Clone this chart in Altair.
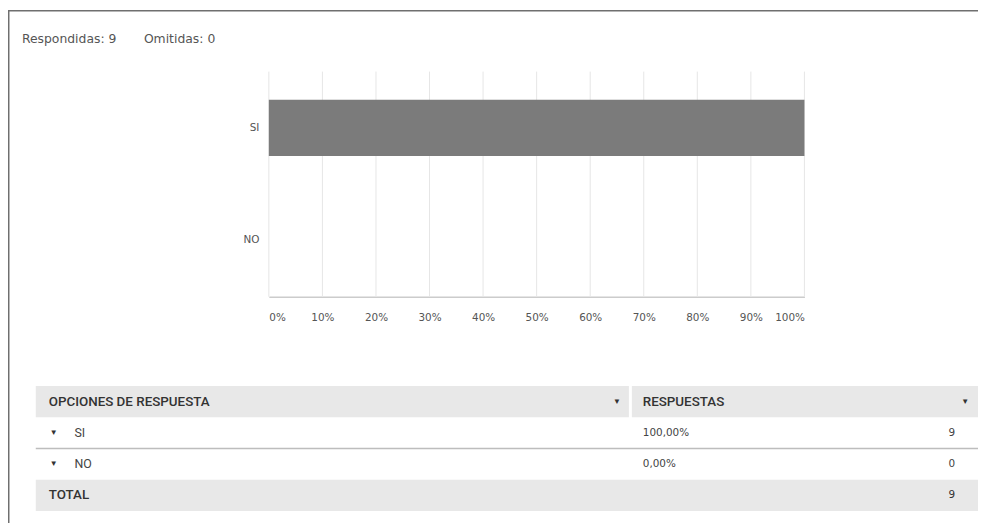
import altair as alt
import pandas as pd

# ---- data ----
options = ["SI", "NO"]
percents = [100.0, 0.0]
counts = [9, 0]
answered = 9
skipped = 0
total = 9
header_labels = ["OPCIONES DE RESPUESTA", "RESPUESTAS"]
tick_values = [0, 10, 20, 30, 40, 50, 60, 70, 80, 90, 100]

W, H = 978, 517
FONT = "DejaVu Sans"
TFONT = "Roboto"


def pct_text(p):
    return f"{p:.2f}".replace(".", ",") + "%"


# ---- bar chart ----
xscale = alt.Scale(domain=[0, 100], range=[263, 803], nice=False)
bar_df = pd.DataFrame({"option": options, "pct": percents})
bar = alt.Chart(bar_df).mark_bar(color="#7b7b7b").encode(
    x=alt.X(
        "pct:Q",
        scale=xscale,
        axis=alt.Axis(
            values=tick_values, labelExpr="datum.value + '%'", title=None,
            grid=False, domainColor="#cccccc", domainWidth=1.5,
            ticks=False, offset=-(H - 289), labelPadding=16,
            labelFont=FONT, labelFontSize=10.5, labelColor="#555555",
        ),
    ),
    y=alt.Y(
        "option:N", sort=options,
        scale=alt.Scale(domain=options, range=[62, 289], paddingInner=0.5, paddingOuter=0.25),
        axis=alt.Axis(
            title=None, ticks=False, domain=False, grid=False,
            offset=-263, labelPadding=10,
            labelFont=FONT, labelFontSize=10.5, labelColor="#555555",
        ),
    ),
)

grid_df = pd.DataFrame({"v": tick_values})
grid = alt.Chart(grid_df).mark_rule(color="#e6e6e6", strokeWidth=1).encode(
    x=alt.X("v:Q", scale=xscale), y=alt.value(62), y2=alt.value(289)
)

bar_block = alt.layer(grid, bar)

# ---- summary line ----
summary_df = pd.DataFrame({
    "text": [f"Respondidas: {answered}", f"Omitidas: {skipped}"],
    "px": [14, 137],
})
summary = alt.Chart(summary_df).mark_text(
    align="left", baseline="middle", font=FONT, fontSize=12.5, color="#555555"
).encode(x=alt.X("px:Q", scale=None), y=alt.value(29), text="text:N")

# ---- table ----
row_ids = [0, 1, 2, 3]
row_scale = alt.Scale(domain=row_ids, range=[379, 505], paddingInner=0, paddingOuter=0)
Y = alt.Y("row:O", scale=row_scale, axis=None)

bg_df = pd.DataFrame({"row": [0, 0, 3], "x0": [28, 629, 28], "x1": [626, 978, 978]})
bg = alt.Chart(bg_df).mark_rect(color="#e8e8e8").encode(
    x=alt.X("x0:Q", scale=None), x2="x1:Q", y=Y
)

sep = alt.Chart(pd.DataFrame({"row": [1]})).mark_rule(color="#bdbdbd", strokeWidth=1.5).encode(
    x=alt.value(28), x2=alt.value(978),
    y=alt.Y("row:O", scale=row_scale, axis=None, bandPosition=1),
)

header_df = pd.DataFrame({"row": [0, 0], "text": header_labels, "px": [41, 640]})
header = alt.Chart(header_df).mark_text(
    align="left", baseline="middle", font=TFONT, fontSize=13.5, fontWeight=500, color="#333333"
).encode(x=alt.X("px:Q", scale=None), y=Y, text="text:N")

arrows_df = pd.DataFrame({
    "row": [0, 0, 1, 2],
    "px": [614, 965, 46, 46],
})
arrows = alt.Chart(arrows_df).mark_text(
    text="▼", align="center", baseline="middle", fontSize=8, color="#333333"
).encode(x=alt.X("px:Q", scale=None), y=Y)

rows_df = pd.DataFrame({
    "row": [1, 2],
    "label": options,
    "pct": [pct_text(p) for p in percents],
    "count": [str(c) for c in counts],
})
row_labels = alt.Chart(rows_df).mark_text(
    align="left", baseline="middle", font=TFONT, fontSize=12.5, color="#444444"
).encode(x=alt.value(67), y=Y, text="label:N")
row_pcts = alt.Chart(rows_df).mark_text(
    align="left", baseline="middle", font=FONT, fontSize=10.5, color="#444444"
).encode(x=alt.value(640), y=Y, text="pct:N")
row_counts = alt.Chart(rows_df).mark_text(
    align="right", baseline="middle", font=FONT, fontSize=10.5, color="#444444"
).encode(x=alt.value(955), y=Y, text="count:N")

total_df = pd.DataFrame({"row": [3], "label": ["TOTAL"], "count": [str(total)]})
total_label = alt.Chart(total_df).mark_text(
    align="left", baseline="middle", font=TFONT, fontSize=13.5, fontWeight=500, color="#333333"
).encode(x=alt.value(41), y=Y, text="label:N")
total_count = alt.Chart(total_df).mark_text(
    align="right", baseline="middle", font=FONT, fontSize=10.5, color="#333333"
).encode(x=alt.value(955), y=Y, text="count:N")

table = alt.layer(bg, sep, header, arrows, row_labels, row_pcts, row_counts, total_label, total_count)

# ---- frame border ----
border_top = alt.Chart(pd.DataFrame({"a": [0]})).mark_rule(color="#6f6f6f", strokeWidth=1.5).encode(
    x=alt.value(0), x2=alt.value(W), y=alt.value(0.75)
)
border_left = alt.Chart(pd.DataFrame({"a": [0]})).mark_rule(color="#6f6f6f", strokeWidth=1.5).encode(
    x=alt.value(0.75), y=alt.value(0), y2=alt.value(H)
)

chart = alt.layer(border_top, border_left, summary, bar_block, table).resolve_scale(
    x="independent", y="independent"
).properties(
    width=W, height=H, padding=0, autosize=alt.AutoSizeParams(type="none"),
    background="white",
).configure_view(stroke=None)

chart.save("out.html", embed_options={"renderer": "svg", "actions": False})
